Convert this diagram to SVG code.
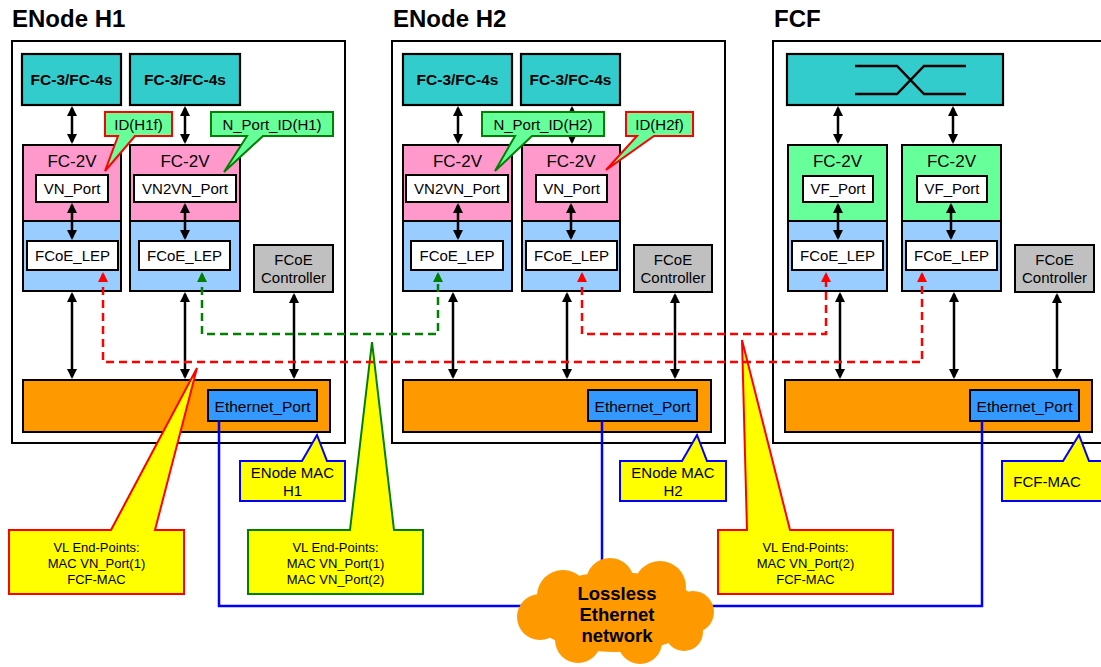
<svg xmlns="http://www.w3.org/2000/svg" width="1101" height="667" viewBox="0 0 1101 667">
<defs>
<style>
text{font-family:"Liberation Sans",Arial,sans-serif;fill:#000}
.title{font-size:24px;font-weight:bold}
.outer{fill:#fff;stroke:#000;stroke-width:2}
.fc34{fill:#33cccc;stroke:#000;stroke-width:2.2}
.fc34t{font-size:15.5px;font-weight:bold;text-anchor:middle}
.pink{fill:#ff99cc;stroke:#000;stroke-width:2}
.green{fill:#66ff99;stroke:#000;stroke-width:2}
.lblue{fill:#99ccff;stroke:#000;stroke-width:2}
.white{fill:#fff;stroke:#000;stroke-width:2}
.grey{fill:#c0c0c0;stroke:#000;stroke-width:2}
.orange{fill:#ff9900;stroke:#000;stroke-width:2}
.eth{fill:#3399ff;stroke:#000;stroke-width:2}
.t17{font-size:17px;text-anchor:middle}
.t15{font-size:15px;text-anchor:middle}
.t13{font-size:13px;text-anchor:middle}
.arr{stroke:#000;stroke-width:2.5;fill:none;marker-start:url(#ah);marker-end:url(#ah)}
.net{stroke:#0000ff;stroke-width:2.5;fill:none}
.vr{stroke:#ff0000;stroke-width:2.5;fill:none;stroke-dasharray:8 5;marker-start:url(#ahr);marker-end:url(#ahr)}
.vg{stroke:#008000;stroke-width:2.5;fill:none;stroke-dasharray:8 5;marker-start:url(#ahg);marker-end:url(#ahg)}
.cgr{fill:#66ff99;stroke:#ff0000;stroke-width:2}
.cgg{fill:#66ff99;stroke:#008000;stroke-width:2}
.cyb{fill:#ffff00;stroke:#0000ff;stroke-width:2}
.cyr{fill:#ffff00;stroke:#ff0000;stroke-width:2}
.cyg{fill:#ffff00;stroke:#008000;stroke-width:2}
.cloud{fill:#ff9900}
</style>
<marker id="ah" viewBox="0 0 10 10" refX="8" refY="5" markerWidth="10" markerHeight="10" markerUnits="userSpaceOnUse" orient="auto-start-reverse"><path d="M0,0 L10,5 L0,10 Z" fill="#000"/></marker>
<marker id="ahr" viewBox="0 0 10 10" refX="8" refY="5" markerWidth="10" markerHeight="10" markerUnits="userSpaceOnUse" orient="auto-start-reverse"><path d="M0,0 L10,5 L0,10 Z" fill="#ff0000"/></marker>
<marker id="ahg" viewBox="0 0 10 10" refX="8" refY="5" markerWidth="10" markerHeight="10" markerUnits="userSpaceOnUse" orient="auto-start-reverse"><path d="M0,0 L10,5 L0,10 Z" fill="#008000"/></marker>
</defs>
<rect width="1101" height="667" fill="#fff"/>

<g id="enode-h1">
<text class="title" x="12" y="27">ENode H1</text>
<rect class="outer" x="12" y="41" width="333" height="402"/>
<rect class="fc34" x="22" y="54" width="99" height="51"/><text class="fc34t" x="71.5" y="85">FC-3/FC-4s</text>
<rect class="fc34" x="130" y="54" width="110" height="51"/><text class="fc34t" x="185" y="85">FC-3/FC-4s</text>
<rect class="pink" x="23" y="145" width="98" height="76"/><text class="t17" x="72" y="167">FC-2V</text>
<rect class="lblue" x="23" y="221" width="98" height="70"/>
<rect class="white" x="36" y="175" width="72" height="27"/><text class="t15" x="72" y="194">VN_Port</text>
<rect class="white" x="27" y="241" width="91" height="29"/><text class="t15" x="72.5" y="261">FCoE_LEP</text>
<rect class="pink" x="130" y="145" width="110" height="76"/><text class="t17" x="185" y="167">FC-2V</text>
<rect class="lblue" x="130" y="221" width="110" height="70"/>
<rect class="white" x="134" y="175" width="102" height="27"/><text class="t15" x="185" y="194">VN2VN_Port</text>
<rect class="white" x="139" y="241" width="91" height="29"/><text class="t15" x="184.5" y="261">FCoE_LEP</text>
<rect class="grey" x="254" y="245" width="79" height="47"/><text class="t15" x="293.5" y="265">FCoE</text><text class="t15" x="293.5" y="283">Controller</text>
<rect class="orange" x="23" y="380" width="307" height="52"/>
<rect class="eth" x="208" y="390" width="109" height="31"/><text class="t15" x="262.5" y="412" textLength="96" lengthAdjust="spacingAndGlyphs">Ethernet_Port</text>
</g>

<g id="enode-h2">
<text class="title" x="393" y="27">ENode H2</text>
<rect class="outer" x="392" y="41" width="333" height="402"/>
<rect class="fc34" x="403" y="54" width="109" height="51"/><text class="fc34t" x="457.5" y="85">FC-3/FC-4s</text>
<rect class="fc34" x="521" y="54" width="99" height="51"/><text class="fc34t" x="570.5" y="85">FC-3/FC-4s</text>
<rect class="pink" x="403" y="145" width="109" height="76"/><text class="t17" x="457.5" y="167">FC-2V</text>
<rect class="lblue" x="403" y="221" width="109" height="70"/>
<rect class="white" x="406" y="175" width="102" height="27"/><text class="t15" x="457" y="194">VN2VN_Port</text>
<rect class="white" x="411" y="241" width="92" height="29"/><text class="t15" x="457" y="261">FCoE_LEP</text>
<rect class="pink" x="522" y="145" width="98" height="76"/><text class="t17" x="571" y="167">FC-2V</text>
<rect class="lblue" x="522" y="221" width="98" height="70"/>
<rect class="white" x="536" y="175" width="71" height="27"/><text class="t15" x="571.5" y="194">VN_Port</text>
<rect class="white" x="526" y="241" width="91" height="29"/><text class="t15" x="571.5" y="261">FCoE_LEP</text>
<rect class="grey" x="634" y="245" width="78" height="47"/><text class="t15" x="673" y="265">FCoE</text><text class="t15" x="673" y="283">Controller</text>
<rect class="orange" x="403" y="380" width="308" height="52"/>
<rect class="eth" x="588" y="390" width="109" height="31"/><text class="t15" x="642.5" y="412" textLength="96" lengthAdjust="spacingAndGlyphs">Ethernet_Port</text>
</g>

<g id="fcf">
<text class="title" x="774" y="27">FCF</text>
<rect class="outer" x="773" y="41" width="340" height="402"/>
<rect class="fc34" x="787" y="54" width="216" height="51"/>
<path d="M855,66 H897 L924,94 H966 M855,94 H897 L924,66 H966" fill="none" stroke="#000" stroke-width="2.5"/>
<rect class="green" x="788" y="145" width="99" height="76"/><text class="t17" x="837.5" y="167">FC-2V</text>
<rect class="lblue" x="788" y="221" width="99" height="70"/>
<rect class="white" x="803" y="176" width="70" height="26"/><text class="t15" x="838" y="194">VF_Port</text>
<rect class="white" x="792" y="241" width="91" height="29"/><text class="t15" x="837.5" y="261">FCoE_LEP</text>
<rect class="green" x="902" y="145" width="99" height="76"/><text class="t17" x="951.5" y="167">FC-2V</text>
<rect class="lblue" x="902" y="221" width="99" height="70"/>
<rect class="white" x="917" y="176" width="70" height="26"/><text class="t15" x="952" y="194">VF_Port</text>
<rect class="white" x="906" y="241" width="91" height="29"/><text class="t15" x="951.5" y="261">FCoE_LEP</text>
<rect class="grey" x="1015" y="245" width="79" height="47"/><text class="t15" x="1054.5" y="265">FCoE</text><text class="t15" x="1054.5" y="283">Controller</text>
<rect class="orange" x="785" y="380" width="307" height="52"/>
<rect class="eth" x="970" y="390" width="109" height="31"/><text class="t15" x="1024.5" y="412" textLength="96" lengthAdjust="spacingAndGlyphs">Ethernet_Port</text>
</g>

<g id="connectors">
<path class="arr" d="M72,108 V142"/>
<path class="arr" d="M185,108 V142"/>
<path class="arr" d="M72,205 V238"/>
<path class="arr" d="M185,205 V238"/>
<path class="arr" d="M72,294 V377"/>
<path class="arr" d="M185,294 V377"/>
<path class="arr" d="M294,295 V377"/>
<path class="arr" d="M458,108 V142"/>
<path class="arr" d="M572,108 V142"/>
<path class="arr" d="M458,205 V238"/>
<path class="arr" d="M571,205 V238"/>
<path class="arr" d="M453,294 V377"/>
<path class="arr" d="M567,294 V377"/>
<path class="arr" d="M675,295 V377"/>
<path class="arr" d="M838,108 V142"/>
<path class="arr" d="M953,108 V142"/>
<path class="arr" d="M838,205 V238"/>
<path class="arr" d="M951,205 V238"/>
<path class="arr" d="M840,294 V377"/>
<path class="arr" d="M954,294 V377"/>
<path class="arr" d="M1057,295 V377"/>
<path class="net" d="M219,421 V606 H540"/>
<path class="net" d="M602,421 V570"/>
<path class="net" d="M982,421 V606 H700"/>
</g>

<g id="cloud">
<g class="cloud">
<ellipse cx="615" cy="612" rx="85" ry="40"/>
<circle cx="563" cy="596" r="26"/>
<circle cx="610" cy="582" r="24"/>
<circle cx="660" cy="587" r="26"/>
<circle cx="693" cy="612" r="21"/>
<circle cx="540" cy="617" r="23"/>
<circle cx="578" cy="640" r="23"/>
<circle cx="640" cy="642" r="22"/>
<circle cx="684" cy="632" r="19"/>
</g>
<text x="617" y="600" style="font-size:18.5px;font-weight:bold;text-anchor:middle">Lossless</text>
<text x="617" y="621" style="font-size:18.5px;font-weight:bold;text-anchor:middle">Ethernet</text>
<text x="617" y="642" style="font-size:18.5px;font-weight:bold;text-anchor:middle">network</text>
</g>

<g id="callout-id-h1f"><path class="cgr" d="M105,112 H172 V136 H135 L105,171 L118,136 H105 Z"/><text class="t15" x="138.5" y="130">ID(H1f)</text></g>
<g id="callout-nportid-h1"><path class="cgg" d="M211,112 H333 V136 H263 L224,172 L247,136 H211 Z"/><text class="t15" x="272" y="130">N_Port_ID(H1)</text></g>
<g id="callout-nportid-h2"><path class="cgg" d="M482,112 H604 V136 H532 L495,171 L515,136 H482 Z"/><text class="t15" x="543" y="130">N_Port_ID(H2)</text></g>
<g id="callout-id-h2f"><path class="cgr" d="M626,112 H693 V136 H654 L606,170 L637,136 H626 Z"/><text class="t15" x="659.5" y="130">ID(H2f)</text></g>

<g id="callout-mac-h1"><path class="cyb" d="M240,461 H302 L317,435 L327,461 H345 V501 H240 Z"/><text class="t15" x="292.5" y="478">ENode MAC</text><text class="t15" x="292.5" y="496">H1</text></g>
<g id="callout-mac-h2"><path class="cyb" d="M620,461 H682 L697,435 L707,461 H726 V501 H620 Z"/><text class="t15" x="673" y="478">ENode MAC</text><text class="t15" x="673" y="496">H2</text></g>
<g id="callout-fcf-mac"><path class="cyb" d="M1002,461 H1063 L1079,435 L1089,461 H1112 V501 H1002 Z"/><text class="t15" x="1047" y="487">FCF-MAC</text></g>

<g id="callout-vl1"><path class="cyr" d="M9,530 H111 L197,368 L155,530 H184 V594 H9 Z"/><text class="t13" x="96.5" y="552">VL End-Points:</text><text class="t13" x="96.5" y="568">MAC VN_Port(1)</text><text class="t13" x="96.5" y="584">FCF-MAC</text></g>
<g id="callout-vl2"><path class="cyg" d="M248,530 H350 L372,342 L394,530 H423 V594 H248 Z"/><text class="t13" x="335.5" y="552">VL End-Points:</text><text class="t13" x="335.5" y="568">MAC VN_Port(1)</text><text class="t13" x="335.5" y="584">MAC VN_Port(2)</text></g>
<g id="callout-vl3"><path class="cyr" d="M718,530 H747 L742,340 L790,530 H893 V594 H718 Z"/><text class="t13" x="805.5" y="552">VL End-Points:</text><text class="t13" x="805.5" y="568">MAC VN_Port(2)</text><text class="t13" x="805.5" y="584">FCF-MAC</text></g>

<g id="virtual-links">
<path class="vr" d="M103,274 V362 H922 V274"/>
<path class="vr" d="M582,274 V334 H826 V274"/>
<path class="vg" d="M202,274 V334 H438 V274"/>
</g>
</svg>
